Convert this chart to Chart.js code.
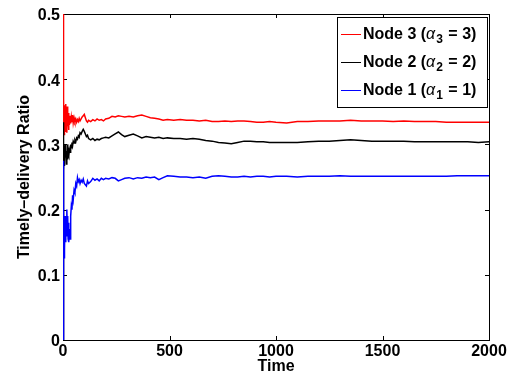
<!DOCTYPE html>
<html>
<head>
<meta charset="utf-8">
<script src="https://cdn.jsdelivr.net/npm/chart.js@4"></script>
<style>
  body { margin: 0; background: #fff; }
  #wrap { width: 509px; height: 374px; }
</style>
</head>
<body>
<div id="wrap"><canvas id="ratioChart"></canvas></div>
<script>
// time samples (dense at the start where the curves are noisy)
const times = [
    0, 1, 2, 3, 4, 5, 6, 7, 8, 10,
    12, 14, 16, 18, 20, 22, 24, 26, 28, 30,
    33, 36, 39, 42, 45, 48, 52, 56, 60, 64,
    68, 72, 76, 80, 85, 90, 95, 100, 105, 110,
    115, 120, 130, 140, 150, 160, 170, 180, 190, 200,
    215, 230, 245, 260, 275, 290, 310, 330, 350, 370,
    390, 410, 430, 450, 470, 490, 520, 550, 580, 610,
    640, 670, 700, 730, 760, 790, 820, 850, 880, 910,
    940, 970, 1000, 1050, 1100, 1150, 1200, 1250, 1300, 1350,
    1400, 1450, 1500, 1550, 1600, 1650, 1700, 1750, 1800, 1850,
    1900, 1950, 2000
];

const node3 = [
    0.5, 0.41, 0.36, 0.33, 0.37, 0.315, 0.36, 0.33, 0.355, 0.32,
    0.362, 0.33, 0.35, 0.318, 0.358, 0.328, 0.348, 0.322, 0.345, 0.33,
    0.344, 0.332, 0.342, 0.334, 0.345, 0.333, 0.341, 0.335, 0.339, 0.334,
    0.338, 0.335, 0.34, 0.336, 0.339, 0.342, 0.344, 0.346, 0.341, 0.336,
    0.334, 0.337, 0.335, 0.338, 0.336, 0.339, 0.337, 0.338, 0.336, 0.339,
    0.34, 0.343, 0.342, 0.344, 0.343, 0.342, 0.343, 0.342, 0.344, 0.345,
    0.343, 0.341, 0.34, 0.339, 0.337, 0.338, 0.337, 0.338, 0.337, 0.337,
    0.336, 0.337, 0.335, 0.335, 0.336, 0.335, 0.336, 0.336, 0.335, 0.334,
    0.334, 0.335, 0.334, 0.333, 0.335, 0.335, 0.336, 0.336, 0.336, 0.337,
    0.336, 0.336, 0.336, 0.335, 0.336, 0.335, 0.335, 0.335, 0.334, 0.334,
    0.334, 0.334, 0.334
];

const node2 = [
    0, 0.334, 0.27, 0.3, 0.26, 0.285, 0.267, 0.295, 0.275, 0.3,
    0.28, 0.298, 0.27, 0.29, 0.278, 0.3, 0.285, 0.295, 0.282, 0.292,
    0.288, 0.3, 0.295, 0.303, 0.298, 0.305, 0.302, 0.307, 0.304, 0.31,
    0.308, 0.313, 0.311, 0.318, 0.316, 0.32, 0.323, 0.32, 0.316, 0.312,
    0.314, 0.309, 0.307, 0.309, 0.306, 0.308, 0.307, 0.309, 0.31, 0.311,
    0.31, 0.313, 0.316, 0.319, 0.315, 0.312, 0.314, 0.316, 0.313, 0.31,
    0.312, 0.311, 0.31, 0.311, 0.309, 0.31, 0.309, 0.309, 0.308, 0.309,
    0.308, 0.306, 0.305, 0.303, 0.302, 0.301, 0.303, 0.305, 0.305, 0.304,
    0.304, 0.303, 0.303, 0.303, 0.303, 0.304, 0.305, 0.305, 0.306, 0.307,
    0.306, 0.305, 0.305, 0.305, 0.305, 0.304, 0.304, 0.304, 0.304, 0.304,
    0.304, 0.303, 0.304
];

const node1 = [
    0, 0.275, 0.22, 0.18, 0.2, 0.14, 0.125, 0.17, 0.14, 0.19,
    0.15, 0.18, 0.16, 0.2, 0.17, 0.19, 0.155, 0.18, 0.15, 0.17,
    0.155, 0.19, 0.205, 0.2, 0.222, 0.215, 0.23, 0.226, 0.24, 0.236,
    0.249, 0.243, 0.246, 0.24, 0.245, 0.242, 0.247, 0.24, 0.238, 0.236,
    0.244, 0.24, 0.243, 0.248, 0.245, 0.247, 0.244, 0.248, 0.246, 0.248,
    0.247, 0.249, 0.248, 0.244, 0.246, 0.248, 0.249, 0.247, 0.249, 0.248,
    0.25, 0.249, 0.25, 0.246, 0.249, 0.252, 0.251, 0.25, 0.25, 0.249,
    0.25, 0.248, 0.251, 0.252, 0.251, 0.25, 0.25, 0.251, 0.25, 0.251,
    0.251, 0.25, 0.251, 0.251, 0.25, 0.251, 0.251, 0.251, 0.252, 0.251,
    0.251, 0.251, 0.251, 0.251, 0.251, 0.251, 0.251, 0.251, 0.251, 0.252,
    0.252, 0.252, 0.252
];

const xTicks = [0, 500, 1000, 1500, 2000];
const yTicks = [0, 0.1, 0.2, 0.3, 0.4, 0.5];

// legend entries, top to bottom
const legendNames = ['Node 3', 'Node 2', 'Node 1'];
const legendAlpha = ['3', '2', '1'];
const legendColors = ['#ff0000', '#000000', '#0000ff'];

const FONT = '"Liberation Sans", Arial, Helvetica, sans-serif';
Chart.defaults.font.family = FONT;
Chart.defaults.color = '#000';

function toPoints(vals) {
    return vals.map((v, i) => ({ x: times[i], y: v }));
}

// MATLAB-like box with inward ticks, plus the boxed legend
const boxPlugin = {
    id: 'box',
    beforeDatasetsDraw(chart) {
        const { ctx, chartArea: a, scales } = chart;
        ctx.save();
        ctx.strokeStyle = '#000';
        ctx.lineWidth = 1;
        ctx.strokeRect(a.left + 0.5, a.top + 0.5, a.right - a.left, a.bottom - a.top);
        ctx.beginPath();
        xTicks.forEach(t => {
            const px = Math.round(scales.x.getPixelForValue(t)) + 0.5;
            ctx.moveTo(px, a.bottom); ctx.lineTo(px, a.bottom - 4);
            ctx.moveTo(px, a.top); ctx.lineTo(px, a.top + 4);
        });
        yTicks.forEach(t => {
            const py = Math.round(scales.y.getPixelForValue(t)) + 0.5;
            ctx.moveTo(a.left, py); ctx.lineTo(a.left + 4, py);
            ctx.moveTo(a.right, py); ctx.lineTo(a.right - 4, py);
        });
        ctx.stroke();
        ctx.restore();
    },
    afterDatasetsDraw(chart) {
        const { ctx } = chart;
        const bx = 337, by = 17, bw = 150, bh = 90;
        ctx.save();
        ctx.fillStyle = '#fff';
        ctx.fillRect(bx, by, bw, bh);
        ctx.strokeStyle = '#000';
        ctx.lineWidth = 1;
        ctx.strokeRect(bx + 0.5, by + 0.5, bw, bh);
        legendNames.forEach((name, i) => {
            const ly = 34 + i * 28;
            ctx.strokeStyle = legendColors[i];
            ctx.lineWidth = 1;
            ctx.beginPath();
            ctx.moveTo(341, ly + 0.5);
            ctx.lineTo(361, ly + 0.5);
            ctx.stroke();

            ctx.fillStyle = '#000';
            ctx.textBaseline = 'alphabetic';
            let x = 363;
            const base = ly + 5;
            ctx.font = 'bold 16px ' + FONT;
            const s1 = name + ' (';
            ctx.fillText(s1, x, base);
            x += ctx.measureText(s1).width;
            ctx.font = 'italic 16px ' + FONT;
            ctx.fillText('α', x, base);
            x += ctx.measureText('α').width + 1;
            ctx.font = 'bold 12px ' + FONT;
            ctx.fillText(legendAlpha[i], x, base + 4);
            x += ctx.measureText(legendAlpha[i]).width + 1;
            ctx.font = 'bold 16px ' + FONT;
            ctx.fillText(' = ' + legendAlpha[i] + ')', x, base);
        });
        ctx.restore();
    }
};

const ctx = document.getElementById('ratioChart').getContext('2d');
new Chart(ctx, {
    type: 'line',
    data: {
        datasets: [
            { label: 'Node 1', data: toPoints(node1), borderColor: '#0000ff', borderWidth: 1.5, pointRadius: 0, tension: 0 },
            { label: 'Node 2', data: toPoints(node2), borderColor: '#000000', borderWidth: 1.5, pointRadius: 0, tension: 0 },
            { label: 'Node 3', data: toPoints(node3), borderColor: '#ff0000', borderWidth: 1.5, pointRadius: 0, tension: 0 }
        ]
    },
    options: {
        responsive: true,
        maintainAspectRatio: false,
        animation: false,
        layout: { padding: { top: 14, right: 20, left: 0, bottom: 0 } },
        plugins: {
            legend: { display: false },
            tooltip: { enabled: false }
        },
        scales: {
            x: {
                type: 'linear',
                min: 0,
                max: 2000,
                afterBuildTicks: s => { s.ticks = xTicks.map(v => ({ value: v })); },
                afterFit: s => { s.height = 34; },
                grid: { display: false, drawTicks: false },
                border: { display: false },
                ticks: {
                    padding: 2,
                    maxRotation: 0,
                    font: { size: 16, weight: 'bold' },
                    callback: v => String(v)
                },
                title: {
                    display: true,
                    text: 'Time',
                    font: { size: 16, weight: 'bold', lineHeight: 0.9 },
                    padding: { top: 0, bottom: 0 }
                }
            },
            y: {
                min: 0,
                max: 0.5,
                afterBuildTicks: s => { s.ticks = yTicks.map(v => ({ value: v })); },
                afterFit: s => { s.width = 63; },
                grid: { display: false, drawTicks: false },
                border: { display: false },
                ticks: {
                    padding: 3,
                    labelOffset: 2,
                    font: { size: 16, weight: 'bold' },
                    callback: v => String(v)
                },
                title: {
                    display: true,
                    text: 'Timely\u2013delivery Ratio',
                    font: { size: 16, weight: 'bold', lineHeight: 1.2 },
                    padding: { top: 15, bottom: 0 }
                }
            }
        }
    },
    plugins: [boxPlugin]
});
</script>
</body>
</html>
